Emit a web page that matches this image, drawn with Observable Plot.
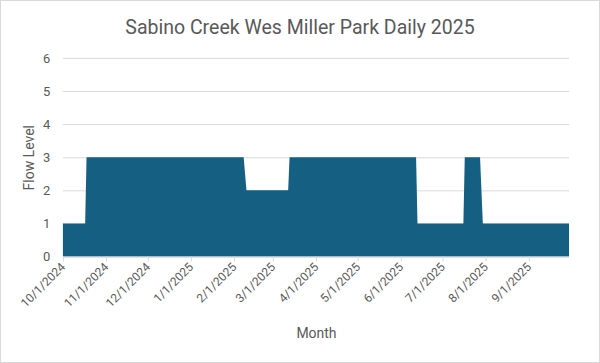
<!DOCTYPE html>
<html><head><meta charset="utf-8">
<script src="https://cdn.jsdelivr.net/npm/d3@7"></script>
<script src="https://cdn.jsdelivr.net/npm/@observablehq/plot@0.6"></script>
<style>
body{margin:0;background:#fff;}
#chart{position:relative;width:600px;height:363px;box-sizing:border-box;border:1px solid #d9d9d9;overflow:hidden;font-family:Roboto, "Open Sans", sans-serif;background:#fff;}
#title{position:absolute;top:15px;left:0;width:100%;text-align:center;font-size:19.5px;color:#595959;}
#plot{position:absolute;top:-1px;left:-1px;}
</style></head>
<body><div id="chart"><div id="title">Sabino Creek Wes Miller Park Daily 2025</div><div id="plot"></div></div>
<script>
// Flow level readings (first and last day of each run of equal level)
const dates = ["2024-10-01","2024-10-17","2024-10-18","2025-02-08","2025-02-10","2025-03-12","2025-03-13","2025-06-12","2025-06-13","2025-07-16","2025-07-17","2025-07-28","2025-07-30","2025-09-30"];
const levels = [1,1,3,3,2,2,3,3,1,1,3,3,1,1];
const tickDates = ["2024-10-01","2024-11-01","2024-12-01","2025-01-01","2025-02-01","2025-03-01","2025-04-01","2025-05-01","2025-06-01","2025-07-01","2025-08-01","2025-09-01"];
const yTicks = [0,1,2,3,4,5,6];
const xDomain = ["2024-10-01","2025-09-30"];

const parse = d3.utcParse("%Y-%m-%d");
const data = dates.map((d, i) => ({date: parse(d), level: levels[i]}));
const fmt = d => `${d.getUTCMonth()+1}/${d.getUTCDate()}/${d.getUTCFullYear()}`;

const chart = Plot.plot({
  width: 600, height: 363,
  marginLeft: 63, marginRight: 30, marginTop: 58, marginBottom: 106,
  style: {fontFamily: "Roboto, 'Open Sans', sans-serif", color: "#595959", background: "transparent"},
  x: {type: "utc", domain: xDomain.map(parse)},
  y: {domain: [0, 6]},
  marks: [
    Plot.gridY(yTicks, {stroke: "#d9d9d9", strokeOpacity: 1}),
    Plot.areaY(data, {x: "date", y: "level", fill: "#156082", curve: "linear"}),
    Plot.ruleY([0], {stroke: "#d9d9d9"}),
    Plot.axisX(tickDates.map(parse), {tickRotate: -45, tickFormat: fmt, tickSize: 5, tickPadding: 3, stroke: "#d9d9d9", fill: "#595959", fontSize: 12, label: null}),
    Plot.axisY(yTicks, {tickSize: 0, tickPadding: 13, fill: "#595959", fontSize: 13, label: null}),
    Plot.text(["Month"], {frameAnchor: "bottom", lineAnchor: "middle", dy: 77, fontSize: 14, fill: "#595959"}),
    Plot.text(["Flow Level"], {frameAnchor: "left", textAnchor: "middle", lineAnchor: "middle", dx: -34, rotate: -90, fontSize: 14, fill: "#595959"})
  ]
});
document.getElementById("plot").appendChild(chart);
</script>
</body></html>
